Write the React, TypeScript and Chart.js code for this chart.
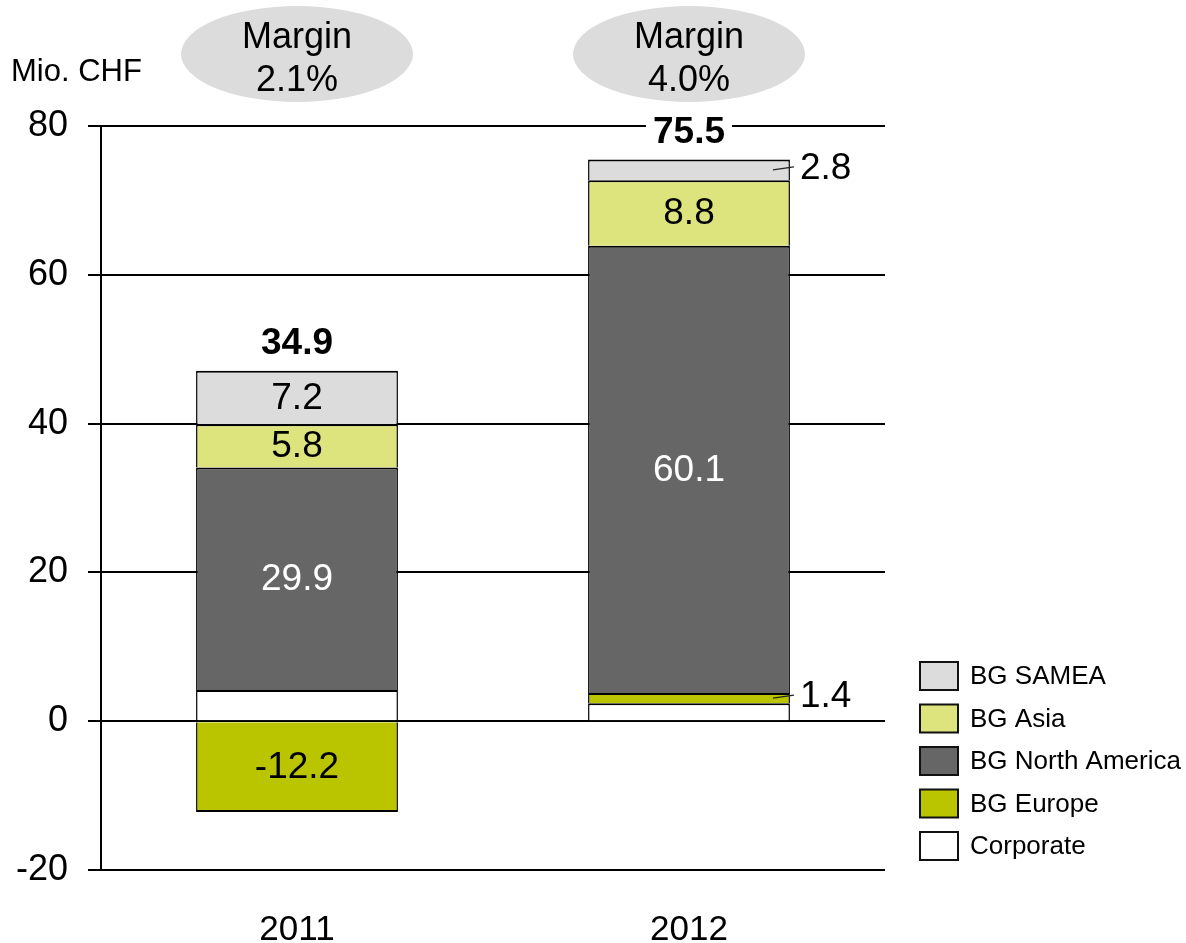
import React, { useEffect, useRef } from "react";
import { Chart, registerables } from "chart.js";

Chart.register(...registerables);

const categories = ["2011", "2012"];
const corporate = [4.2, 2.4];
const bgEurope = [-12.2, 1.4];
const bgNorthAmerica = [29.9, 60.1];
const bgAsia = [5.8, 8.8];
const bgSamea = [7.2, 2.8];
const margins = ["2.1%", "4.0%"];
const yTicks = [-20, 0, 20, 40, 60, 80];
const unitLabel = "Mio. CHF";
const marginLabel = "Margin";

const FONT = "'Liberation Sans', Arial, Helvetica, sans-serif";

const annotations = {
  id: "annotations",
  afterDatasetsDraw(chart: any) {
    const ctx = chart.ctx;
    ctx.save();
    chart.data.datasets.forEach((ds: any, di: number) => {
      if (!ds.showValue) return;
      const meta = chart.getDatasetMeta(di);
      meta.data.forEach((el: any, i: number) => {
        const v = ds.data[i];
        const p = el.getProps(["x", "y", "base", "width"], true);
        const top = Math.min(p.y, p.base);
        const bot = Math.max(p.y, p.base);
        const mid = (top + bot) / 2;
        const txt = v.toFixed(1);
        ctx.font = `37px ${FONT}`;
        if (bot - top >= 30) {
          ctx.fillStyle = ds.valueColor;
          ctx.textAlign = "center";
          ctx.textBaseline = "middle";
          ctx.fillText(txt, p.x, mid + 1);
        } else {
          const right = p.x + p.width / 2;
          const ty = mid - 2;
          ctx.strokeStyle = "#222";
          ctx.lineWidth = 1.2;
          ctx.beginPath();
          ctx.moveTo(right - 17, mid);
          ctx.lineTo(right + 4, ty - 1);
          ctx.stroke();
          ctx.fillStyle = "#000";
          ctx.textAlign = "left";
          ctx.textBaseline = "middle";
          ctx.fillText(txt, right + 10, ty + 1);
        }
      });
    });

    // totals
    categories.forEach((_, i) => {
      let total = 0;
      let topY = Infinity;
      let x = 0;
      chart.data.datasets.forEach((ds: any, di: number) => {
        total += ds.data[i];
        const el = chart.getDatasetMeta(di).data[i];
        const p = el.getProps(["x", "y", "base"], true);
        topY = Math.min(topY, p.y, p.base);
        x = p.x;
      });
      const txt = total.toFixed(1);
      ctx.font = `bold 37px ${FONT}`;
      const w = ctx.measureText(txt).width;
      const cy = topY - 28;
      ctx.fillStyle = "#fff";
      ctx.fillRect(x - w / 2 - 7, cy - 16, w + 14, 32);
      ctx.fillStyle = "#000";
      ctx.textAlign = "center";
      ctx.textBaseline = "middle";
      ctx.fillText(txt, x, cy + 1);
    });
    ctx.restore();
  },
  afterDraw(chart: any) {
    const ctx = chart.ctx;
    const area = chart.chartArea;
    ctx.save();

    // margin ellipses
    const meta0 = chart.getDatasetMeta(0);
    margins.forEach((m, i) => {
      const x = meta0.data[i].x;
      const cy = area.top - 72;
      ctx.fillStyle = "#dcdcdc";
      ctx.beginPath();
      ctx.ellipse(x, cy, 116, 48, 0, 0, Math.PI * 2);
      ctx.fill();
      ctx.fillStyle = "#000";
      ctx.font = `36px ${FONT}`;
      ctx.textAlign = "center";
      ctx.textBaseline = "alphabetic";
      ctx.fillText(marginLabel, x, cy - 6);
      ctx.fillText(m, x, cy + 37);
    });

    // unit label
    ctx.font = `31px ${FONT}`;
    ctx.textAlign = "left";
    ctx.textBaseline = "alphabetic";
    ctx.fillStyle = "#000";
    ctx.fillText(unitLabel, 11, area.top - 45);

    // legend (reversed order)
    const items = chart.data.datasets
      .map((ds: any) => ({ label: ds.label, color: ds.backgroundColor }))
      .reverse();
    items.forEach((it: any, k: number) => {
      const bx = area.right + 35;
      const by = area.bottom - 208 + k * 42.5;
      ctx.fillStyle = it.color;
      ctx.fillRect(bx, by, 38, 28);
      ctx.strokeStyle = "#111";
      ctx.lineWidth = 2;
      ctx.strokeRect(bx, by, 38, 28);
      ctx.fillStyle = "#000";
      ctx.font = `26px ${FONT}`;
      ctx.textAlign = "left";
      ctx.textBaseline = "middle";
      ctx.fillText(it.label, bx + 50, by + 15);
    });
    ctx.restore();
  },
};

export default function App() {
  const ref = useRef<HTMLCanvasElement | null>(null);
  useEffect(() => {
    document.body.style.margin = "0";
    if (!ref.current) return;
    Chart.defaults.font.family = FONT;
    const bw = { top: 2, bottom: 2, left: 1.5, right: 1.5 };
    const chart = new Chart(ref.current, {
      type: "bar",
      data: {
        labels: categories,
        datasets: [
          { label: "Corporate", data: corporate, backgroundColor: "#ffffff", showValue: false, valueColor: "#000" },
          { label: "BG Europe", data: bgEurope, backgroundColor: "#bac500", showValue: true, valueColor: "#000" },
          { label: "BG North America", data: bgNorthAmerica, backgroundColor: "#666666", showValue: true, valueColor: "#fff" },
          { label: "BG Asia", data: bgAsia, backgroundColor: "#dde37d", showValue: true, valueColor: "#000" },
          { label: "BG SAMEA", data: bgSamea, backgroundColor: "#dcdcdc", showValue: true, valueColor: "#000" },
        ].map((d) => ({
          ...d,
          borderColor: "#000",
          borderWidth: bw,
          borderSkipped: "start",
          categoryPercentage: 1,
          barPercentage: 0.515,
        })) as any,
      },
      options: {
        animation: false,
        responsive: false,
        devicePixelRatio: 1,
        layout: { padding: { top: 126, right: 301, left: 0, bottom: 0 } },
        plugins: { legend: { display: false }, tooltip: { enabled: false } },
        scales: {
          x: {
            stacked: true,
            afterFit: (s: any) => {
              s.height = 73;
            },
            grid: { display: false, drawTicks: false },
            border: { display: false },
            ticks: { color: "#000", font: { size: 35, family: FONT }, padding: 39 },
          },
          y: {
            stacked: true,
            min: -20,
            max: 80,
            afterFit: (s: any) => {
              s.width = 101;
            },
            afterBuildTicks: (s: any) => {
              s.ticks = yTicks.map((v) => ({ value: v }));
            },
            ticks: { color: "#000", font: { size: 36, family: FONT }, padding: 20 },
            grid: { color: "#000", lineWidth: 2, tickLength: 13, drawTicks: true },
            border: { display: true, color: "#000", width: 2 },
          },
        },
      } as any,
      plugins: [annotations],
    });
    return () => chart.destroy();
  }, []);
  return (
    <div style={{ width: 1186, height: 943 }}>
      <canvas ref={ref} width={1186} height={943} style={{ display: "block" }} />
    </div>
  );
}
